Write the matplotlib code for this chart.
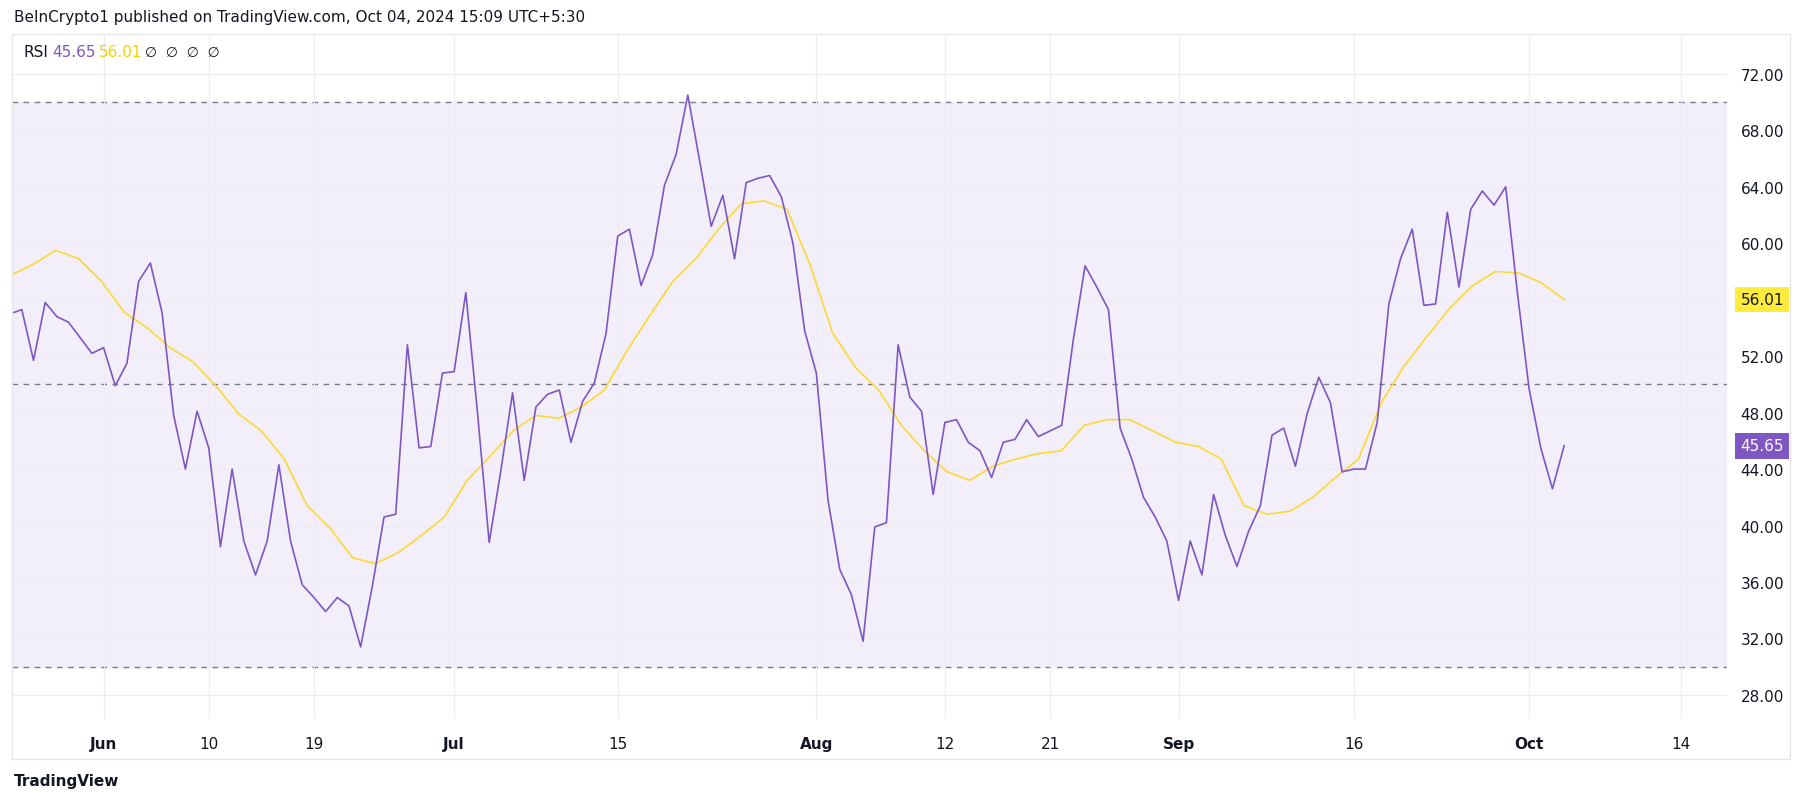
import numpy as np
import matplotlib.pyplot as plt
import matplotlib.dates as mdates
from datetime import datetime, timedelta

# RSI daily values, ending Oct 04 2024
rsi = [55.0, 55.3, 51.7, 55.8, 54.8, 54.4, 53.3, 52.2, 52.6, 49.9, 51.5, 57.3, 58.6, 55.1,
       47.8, 44.0, 48.1, 45.5, 38.5, 44.0, 38.9, 36.5, 38.9, 44.3, 38.9, 35.8, 34.9, 33.9,
       34.9, 34.3, 31.4, 35.7, 40.6, 40.8, 52.8, 45.5, 45.6, 50.8, 50.9, 56.5, 48.0, 38.8,
       43.9, 49.4, 43.2, 48.4, 49.3, 49.6, 45.9, 48.8, 50.1, 53.6, 60.5, 61.0, 57.0, 59.2,
       64.1, 66.3, 70.5, 65.9, 61.2, 63.4, 58.9, 64.3, 64.6, 64.8, 63.3, 60.0, 53.8, 50.8,
       41.8, 36.9, 35.1, 31.8, 39.9, 40.2, 52.8, 49.1, 48.1, 42.2, 47.3, 47.5, 45.9, 45.3,
       43.4, 45.9, 46.1, 47.5, 46.3, 46.7, 47.1, 53.2, 58.4, 56.9, 55.3, 46.9, 44.7, 42.0,
       40.6, 38.9, 34.7, 38.9, 36.5, 42.2, 39.3, 37.1, 39.6, 41.4, 46.4, 46.9, 44.2, 47.9,
       50.5, 48.7, 43.8, 44.0, 44.0, 47.3, 55.7, 58.9, 61.0, 55.6, 55.7, 62.2, 56.9, 62.4,
       63.7, 62.7, 64.0, 56.5, 49.7, 45.5, 42.6, 45.65]

# RSI moving average, sampled every other day
rsi_ma = [57.7, 58.5, 59.5, 58.9, 57.3, 55.1, 54.0, 52.6, 51.6, 49.9, 47.9, 46.7, 44.7, 41.4,
          39.8, 37.7, 37.3, 38.1, 39.3, 40.6, 43.2, 44.9, 46.7, 47.8, 47.6, 48.4, 49.6, 52.4,
          54.9, 57.3, 58.9, 61.0, 62.8, 63.0, 62.4, 58.5, 53.6, 51.2, 49.6, 47.1, 45.3, 43.8,
          43.2, 44.2, 44.7, 45.1, 45.3, 47.1, 47.5, 47.5, 46.7, 45.9, 45.6, 44.7, 41.4, 40.8,
          41.0, 42.0, 43.4, 44.7, 48.7, 51.3, 53.4, 55.4, 57.0, 58.0, 57.9, 57.2, 56.01]

y_ticks = [28, 32, 36, 40, 44, 48, 52, 56, 60, 64, 68, 72]
x_ticks = ["2024-06-01", "2024-06-10", "2024-06-19", "2024-07-01", "2024-07-15", "2024-08-01",
           "2024-08-12", "2024-08-21", "2024-09-01", "2024-09-16", "2024-10-01", "2024-10-14"]
x_tick_labels = ["Jun", "10", "19", "Jul", "15", "Aug", "12", "21", "Sep", "16", "Oct", "14"]

end = datetime(2024, 10, 4)
dates = [end - timedelta(days=len(rsi) - 1 - i) for i in range(len(rsi))]
d0, d1 = mdates.date2num(dates[0]), mdates.date2num(dates[-1])
ma_x = np.linspace(d0, d1, len(rsi_ma))

PURPLE = "#7e57c2"
YELLOW = "#fdd835"

fig = plt.figure(figsize=(18.05, 8.03), dpi=100)
W, H = 1568, 697
ax = fig.add_axes([10 / W, 1 - 625 / H, 1490 / W, 595 / H])

ax.axhspan(30, 70, color="#f2eefa", zorder=0)
for lvl in (70, 50, 30):
    ax.axhline(lvl, color="#787b86", lw=1, ls=(0, (4, 4)), zorder=1)
ax.plot(dates, rsi, color=PURPLE, lw=1.2, zorder=3)
ax.plot(mdates.num2date(ma_x), rsi_ma, color=YELLOW, lw=1.2, zorder=2)

jun1 = mdates.date2num(datetime(2024, 6, 1))
ppd = 10.15
ax.set_xlim(jun1 - 80 / ppd, jun1 + 1410 / ppd)
ax.set_ylim(28 - 21 / 12.25, 72 + 35 / 12.25)

ax.set_yticks(y_ticks)
ax.set_yticklabels([f"{v:.2f}" for v in y_ticks])
ax.yaxis.tick_right()
ax.set_xticks([mdates.date2num(datetime.strptime(s, "%Y-%m-%d")) for s in x_ticks])
ax.set_xticklabels(x_tick_labels)
for lab in ax.get_xticklabels():
    if lab.get_text() in ("Jun", "Jul", "Aug", "Sep", "Oct"):
        lab.set_fontweight("bold")
ax.tick_params(axis="both", length=0, labelsize=11, colors="#131722")
ax.tick_params(axis="y", pad=10)
ax.tick_params(axis="x", pad=12)
ax.grid(True, color="#eeebf4", lw=0.8)
for s in ax.spines.values():
    s.set_visible(False)

# last value labels on price scale (cover the tick label underneath)
for val, fc, tc in ((56.01, "#ffeb3b", "#131722"), (45.65, PURPLE, "white")):
    ax.annotate(f"{val:.2f}", xy=(1, val), xycoords=ax.get_yaxis_transform(),
                xytext=(10, 0), textcoords="offset points", ha="left", va="center",
                fontsize=11, color=tc, zorder=10, annotation_clip=False,
                bbox=dict(boxstyle="square,pad=0.35", fc=fc, ec="none"))

# chart frame
fig.add_artist(plt.Rectangle((10 / W, 1 - 660 / H), 1545 / W, 630 / H, transform=fig.transFigure,
                             fill=False, ec="#e6e6e6", lw=1))

fig.text(12 / W, 1 - 15 / H, "BeInCrypto1 published on TradingView.com, Oct 04, 2024 15:09 UTC+5:30",
         fontsize=11, color="#131722", va="center")
fig.text(20 / W, 1 - 46 / H, "RSI", fontsize=11, color="#131722", va="center")
fig.text(45 / W, 1 - 46 / H, "45.65", fontsize=11, color=PURPLE, va="center")
fig.text(86 / W, 1 - 46 / H, "56.01", fontsize=11, color="#f5d300", va="center")
fig.text(126 / W, 1 - 46 / H, "∅  ∅  ∅  ∅", fontsize=10, color="#131722", va="center")
fig.text(12 / W, 1 - 678 / H, "TradingView", fontsize=11, color="#131722", va="center",
         fontweight="bold")

fig.savefig("out.png", dpi=100)
